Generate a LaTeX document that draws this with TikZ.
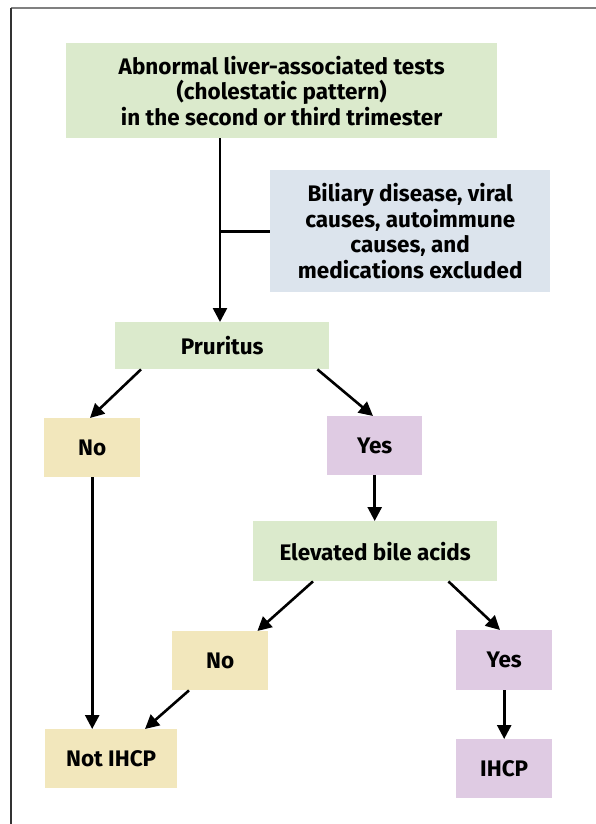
\documentclass[tikz,border=0pt]{standalone}
\usepackage{fontspec}
\setmainfont{Fira Sans}
\usetikzlibrary{arrows.meta,calc}
\definecolor{gbox}{HTML}{DBEACC}
\definecolor{bbox}{HTML}{DCE4ED}
\definecolor{ybox}{HTML}{F2E7BC}
\definecolor{pbox}{HTML}{DFCBE3}
\tikzset{
  box/.style={draw=none, inner sep=0pt, align=center, font=\fontsize{22.5}{25.5}\selectfont\bfseries, anchor=north west},
  arr/.style={line width=2.6pt, -{Triangle[length=14pt,width=14pt]}},
  ln/.style={line width=2.6pt},
}
\begin{document}
\begin{tikzpicture}[x=1pt,y=-1pt]
\useasboundingbox (0,0) rectangle (596,824);
% frame
\draw[line width=2pt, color=black!50] (11,8.5) -- (596,8.5);
\draw[line width=1.2pt, color=black!80] (11,8) -- (11,824);
% boxes
\node[box, fill=gbox, minimum width=431pt, minimum height=95pt] (top) at (66,43) {Abnormal liver-associated tests\\(cholestatic pattern)\\in the second or third trimester};
\node[box, fill=bbox, minimum width=280pt, minimum height=122pt] (excl) at (270,170) {Biliary disease, viral\\causes, autoimmune\\causes, and\\medications excluded};
\node[box, fill=gbox, minimum width=214pt, minimum height=47pt] (pru) at (115,322) {Pruritus};
\node[box, fill=ybox, minimum width=96pt, minimum height=59pt] (no1) at (44,418) {No};
\node[box, fill=pbox, minimum width=95pt, minimum height=59pt] (yes1) at (327,416) {Yes};
\node[box, fill=gbox, minimum width=244pt, minimum height=60pt] (bile) at (253,521) {Elevated bile acids};
\node[box, fill=ybox, minimum width=96pt, minimum height=59pt] (no2) at (172,631) {No};
\node[box, fill=pbox, minimum width=96pt, minimum height=60pt] (yes2) at (456,630) {Yes};
\node[box, fill=ybox, minimum width=132pt, minimum height=59pt] (not) at (45,729) {Not IHCP};
\node[box, fill=pbox, minimum width=96pt, minimum height=59pt] (ihcp) at (456,739) {IHCP};
% connectors
\coordinate (j) at ($(top.south west)+(154,93)$);
\draw[arr] ($(top.south west)+(154,0)$) -- ($(pru.north west)+(105,0)$);
\draw[ln] (j) -- (excl.west |- j);
\draw[arr] ($(pru.south west)+(26,0)$) -- ($(no1.north west)+(46,0)$);
\draw[arr] ($(pru.south east)+(-12,0)$) -- ($(yes1.north west)+(46,0)$);
\draw[arr] (yes1.south) -- (bile.north -| yes1.south);
\draw[arr] ($(bile.south west)+(60,0)$) -- ($(no2.north east)+(-11,0)$);
\draw[arr] ($(bile.south east)+(-49,0)$) -- ($(yes2.north west)+(44,0)$);
\draw[arr] (yes2.south) -- (ihcp.north);
\draw[arr] (no1.south) -- (not.north -| no1.south);
\draw[arr] ($(no2.south west)+(17,0)$) -- ($(not.north west)+(100,0)$);
\end{tikzpicture}
\end{document}
